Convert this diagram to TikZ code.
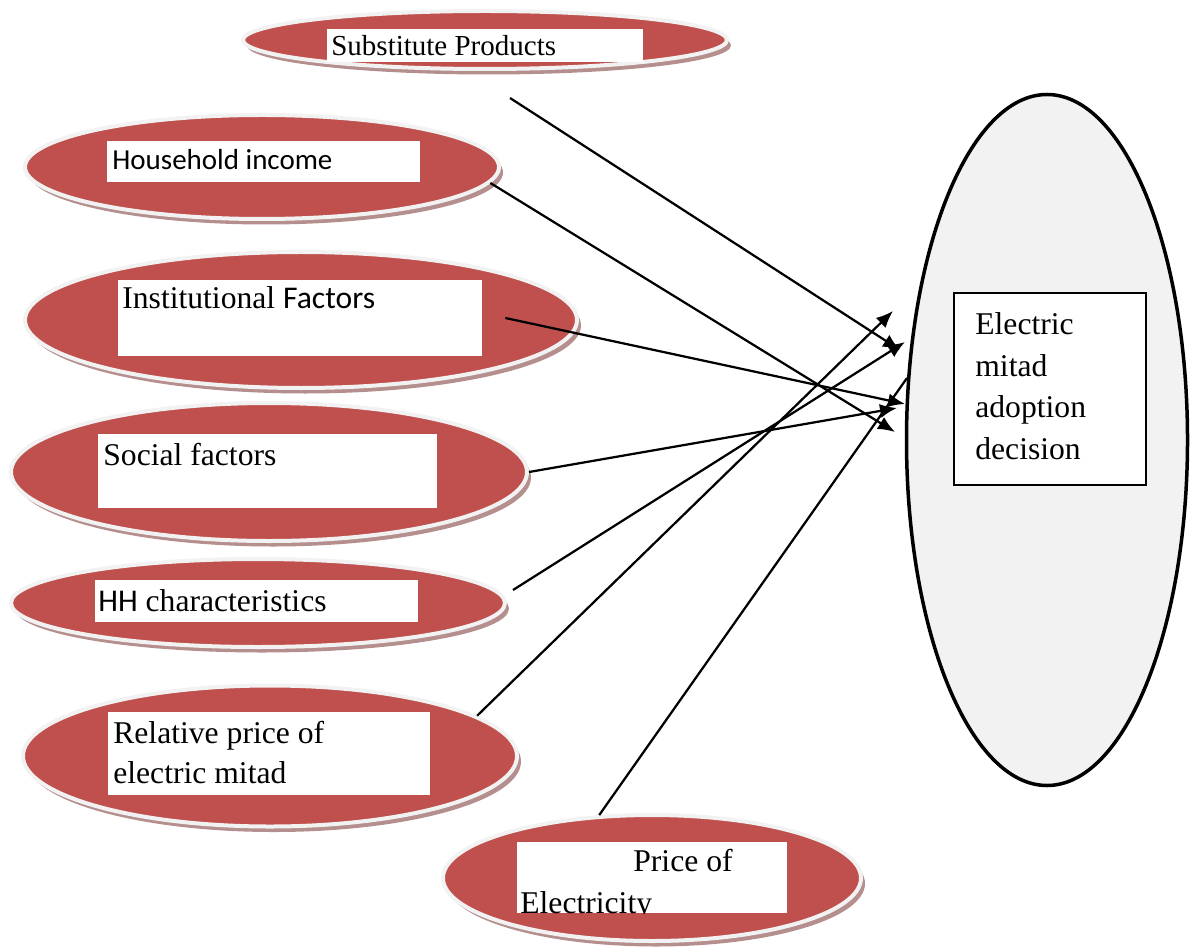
\documentclass[tikz,border=0pt]{standalone}
\usepackage{fontspec}
\setmainfont{Liberation Serif}
\newfontfamily\calibri{Carlito}
\usepackage{tikz}
\usetikzlibrary{shapes.geometric,shadows,arrows.meta}
\definecolor{factorred}{RGB}{192,80,77}
\definecolor{ringgray}{RGB}{242,242,242}
\definecolor{shadowred}{RGB}{181,142,142}

\begin{document}
\begin{tikzpicture}[x=0.2mm,y=-0.2mm,
		factor/.style={ellipse,inner sep=0pt,fill=factorred,draw=ringgray,line width=0.8mm,
			drop shadow={shadow xshift=0.8mm,shadow yshift=-1.1mm,fill=shadowred,opacity=1}},
		decision/.style={ellipse,inner sep=0pt,fill=ringgray,draw=black,line width=0.7mm},
		labelbox/.style={fill=white,inner sep=0pt},
		txt/.style={inner sep=0pt,anchor=base west,font=\fontsize{18}{23}\selectfont},
		arr/.style={-{Latex[length=3.4mm,width=2.8mm]},line width=0.45mm}]
		\useasboundingbox (0,0) rectangle (1190,950);

		% factors
		\node[factor,minimum width=96.8mm,minimum height=11.6mm] (subst) at (485,40) {};
		\node[labelbox,minimum width=63.2mm,minimum height=6.6mm] (substbox) at (485,45.5) {};
		\node[txt,font=\fontsize{16.5}{20}\selectfont] (substtext) at (331,56) {Substitute Products};

		\node[factor,minimum width=94.8mm,minimum height=20.8mm] (house) at (262,167) {};
		\node[labelbox,minimum width=62.6mm,minimum height=8.2mm] (housebox) at (263.5,161.5) {};
		\node[txt,font=\calibri\fontsize{16.5}{20}\selectfont] (housetext) at (112,170) {Household income};

		\node[factor,minimum width=110.4mm,minimum height=27.2mm] (inst) at (301,320) {};
		\node[labelbox,minimum width=72.8mm,minimum height=15.2mm] (instbox) at (300,318) {};
		\node[txt] (insttext) at (122,309) {Institutional {\calibri Factors}};

		\node[factor,minimum width=103.2mm,minimum height=27.6mm] (social) at (269,472) {};
		\node[labelbox,minimum width=67.8mm,minimum height=14.8mm] (socialbox) at (267.5,471) {};
		\node[txt] (socialtext) at (103,465) {Social factors};

		\node[factor,minimum width=98.8mm,minimum height=17.6mm] (hh) at (258,603) {};
		\node[labelbox,minimum width=64.6mm,minimum height=8.4mm] (hhbox) at (256.5,601) {};
		\node[txt] (hhtext) at (98,611) {{\calibri HH} characteristics};

		\node[factor,minimum width=98.8mm,minimum height=28.2mm] (relprice) at (270,756) {};
		\node[labelbox,minimum width=64.4mm,minimum height=16.6mm] (relbox) at (269,753.5) {};
		\node[txt,anchor=north west,align=left,font=\fontsize{18}{22.7}\selectfont] (reltext) at (113,721) {Relative price of\\electric mitad};

		\node[factor,minimum width=83.6mm,minimum height=25.2mm] (elec) at (652,878) {};
		\node[labelbox,minimum width=54mm,minimum height=14.2mm] (elecbox) at (652,877.5) {};
		\begin{scope}
			\clip (elecbox.north west) rectangle (elecbox.south east);
			\node[txt,anchor=north west,align=left,font=\fontsize{18}{23.9}\selectfont] (electext) at (520,849) {\hspace*{22.6mm}Price of\\Electricity};
		\end{scope}

		% decision
		\node[decision,minimum width=56.2mm,minimum height=138.2mm] (adopt) at (1047,440) {};
		\node[labelbox,draw=black,line width=0.25mm,minimum width=38.4mm,minimum height=38.4mm] (adoptbox) at (1050,389) {};
		\node[txt,anchor=north west,align=left,font=\fontsize{18}{23.8}\selectfont] (adopttext) at (975,312) {Electric\\mitad\\adoption\\decision};

		% arrows
		\coordinate (substend) at (900,350);
		\coordinate (houseend) at (895,432);
		\coordinate (instend) at (905,404);
		\coordinate (socialend) at (897,408);
		\coordinate (hhend) at (905,342);
		\coordinate (relend) at (893,311);
		\coordinate (elecend) at (907,378);
		\draw[arr] ([shift={(25,27)}]subst.south) -- (substend);
		\draw[arr] (house.-4) -- (houseend);
		\draw[arr] ([shift={(23,0)}]instbox.east) -- (instend);
		\draw[arr] (social.east) -- (socialend);
		\draw[arr] ([shift={(6,-13)}]hh.east) -- (hhend);
		\draw[arr] (relprice.11) -- (relend);
		\draw[line width=0.45mm] (elec.130) -- (elecend);
	\end{tikzpicture}
\end{document}
